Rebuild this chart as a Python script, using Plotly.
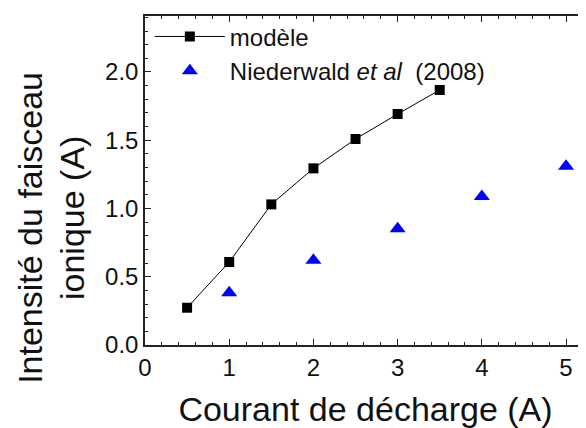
import plotly.graph_objects as go

model_x = [0.5, 1.0, 1.5, 2.0, 2.5, 3.0, 3.5]
model_y = [0.273, 0.608, 1.03, 1.294, 1.509, 1.692, 1.868]
exp_x = [1, 2, 3, 4, 5]
exp_y = [0.383, 0.62, 0.852, 1.087, 1.309]
x_ticks = [0, 1, 2, 3, 4, 5]
y_ticks = [0.0, 0.5, 1.0, 1.5, 2.0]
y_tick_text = ["0.0", "0.5", "1.0", "1.5", "2.0"]
y_title_lines = ["Intensité du faisceau", "ionique (A)"]

FONT = "Liberation Sans, Arial, sans-serif"

fig = go.Figure()
fig.add_trace(go.Scatter(
    x=model_x, y=model_y, mode="lines+markers", name="modèle",
    line=dict(color="black", width=1),
    marker=dict(symbol="square", size=10, color="black"),
))
fig.add_trace(go.Scatter(
    x=exp_x, y=exp_y, mode="markers", name="Niederwald <i>et al</i>  (2008)",
    marker=dict(symbol="triangle-up", size=14, color="#0000ff"),
))

axis_common = dict(
    showline=True, linecolor="#222", linewidth=1.5, mirror="ticks",
    ticks="inside", ticklen=6, tickwidth=1.2, tickcolor="#222",
    showgrid=False, zeroline=False, automargin=False,
    tickfont=dict(family=FONT, size=24, color="#111"),
)

fig.update_xaxes(
    range=[0, 5.237], tickvals=x_ticks,
    minor=dict(ticks="inside", ticklen=3, tickcolor="#222", dtick=0.2, tick0=0, showgrid=False),
    title=dict(text="Courant de décharge (A)", font=dict(family=FONT, size=34, color="#111"), standoff=18),
    **axis_common,
)
fig.update_yaxes(
    range=[0, 2.41], tickvals=y_ticks, ticktext=y_tick_text,
    minor=dict(ticks="inside", ticklen=3, tickcolor="#222", dtick=0.1, tick0=0, showgrid=False),
    **axis_common,
)

for txt, xp, yp in zip(y_title_lines, [-0.2608, -0.1655], [0.356, 0.386]):
    fig.add_annotation(
        text=txt, textangle=-90,
        xref="paper", yref="paper", x=xp, y=yp,
        xanchor="center", yanchor="middle", showarrow=False,
        font=dict(family=FONT, size=34, color="#111"),
    )

fig.update_layout(
    width=578, height=420,
    margin=dict(l=137, r=0, t=8, b=83),
    plot_bgcolor="white", paper_bgcolor="white",
    showlegend=True,
    legend=dict(
        x=0.011, y=1.005, xanchor="left", yanchor="top",
        bgcolor="rgba(0,0,0,0)", font=dict(family=FONT, size=24, color="#111"),
        tracegroupgap=0, itemwidth=70,
    ),
)

fig.write_html("out.html")
